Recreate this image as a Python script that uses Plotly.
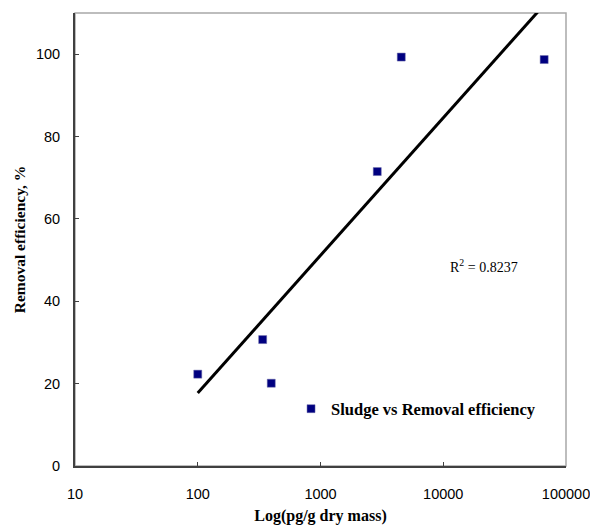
import numpy as np
import plotly.graph_objects as go

# Data
sludge_conc = [100, 338, 397, 2900, 4550, 66400]      # pg/g dry mass
removal_eff = [22.3, 30.7, 20.1, 71.5, 99.3, 98.7]   # %
x_tick_vals = [10, 100, 1000, 10000, 100000]
x_tick_text = ["10", "100", "1000", "10000", "100000"]
y_tick_vals = [0, 20, 40, 60, 80, 100]
r2_label = "R<sup>2</sup> = 0.8237"
series_name = "<b>Sludge vs Removal efficiency</b>"

# Logarithmic trendline (least squares on log10 x)
lx = np.log10(sludge_conc)
slope, intercept = np.polyfit(lx, removal_eff, 1)
trend_x = np.logspace(lx.min(), lx.max(), 200)
trend_y = slope * np.log10(trend_x) + intercept

font = "Liberation Serif"
tick_font = "Liberation Sans"

fig = go.Figure()
fig.add_trace(go.Scatter(
    x=trend_x, y=trend_y, mode="lines",
    line=dict(color="black", width=3),
    showlegend=False, hoverinfo="skip",
))
fig.add_trace(go.Scatter(
    x=sludge_conc, y=removal_eff, mode="markers",
    marker=dict(symbol="square", size=8, color="#000080",
                line=dict(color="#6a6aa8", width=0.5)),
    name=series_name,
))

fig.update_layout(
    width=590, height=527,
    margin=dict(l=75, r=24, t=13, b=61),
    paper_bgcolor="white", plot_bgcolor="white",
    font=dict(family=font, size=14, color="black"),
    showlegend=True,
    legend=dict(x=0.44, y=0.126, xanchor="left", yanchor="middle",
                bgcolor="rgba(0,0,0,0)", font=dict(family=font, size=16.5),
                itemwidth=30, tracegroupgap=0),
    shapes=[dict(type="rect", xref="paper", yref="paper", x0=0, y0=0, x1=1, y1=1,
                 line=dict(color="#a8a8a8", width=1.5), layer="below")],
    annotations=[dict(x=0.833, y=0.4415, xref="paper", yref="paper",
                      xanchor="center", yanchor="middle",
                      text=r2_label, showarrow=False,
                      font=dict(family=font, size=14))],
)

fig.update_xaxes(
    type="log", range=[1, 5], automargin=False,
    tickvals=x_tick_vals, ticktext=x_tick_text,
    ticks="inside", ticklen=4, tickcolor="#404040",
    showline=True, linecolor="#404040", linewidth=2,
    showgrid=False, zeroline=False,
    ticklabelstandoff=14, ticklabeloverflow="allow",
    tickfont=dict(family=tick_font, size=14.5),
    title=dict(text="<b>Log(pg/g dry mass)</b>", standoff=8,
               font=dict(family=font, size=16)),
)
fig.update_yaxes(
    range=[0, 110], automargin=False,
    tickvals=y_tick_vals,
    ticks="inside", ticklen=4, tickcolor="#404040",
    showline=True, linecolor="#404040", linewidth=2,
    showgrid=False, zeroline=False,
    ticklabelstandoff=10,
    tickfont=dict(family=tick_font, size=14.5),
    title=dict(text="<b>Removal efficiency, %</b>", standoff=6,
               font=dict(family=font, size=15.5)),
)

fig.write_html(
    "out.html",
    config={"displayModeBar": False},
    post_script="document.body.style.margin='0';document.body.style.overflow='hidden';",
)
